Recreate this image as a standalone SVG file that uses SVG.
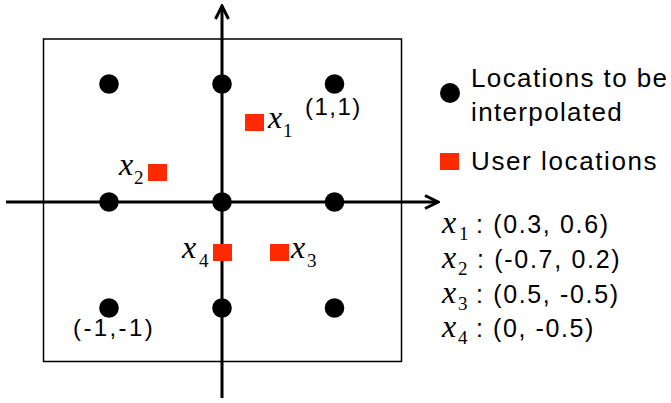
<svg xmlns="http://www.w3.org/2000/svg" width="671" height="403" viewBox="0 0 671 403">
<defs>
<marker id="arrow" markerUnits="userSpaceOnUse" viewBox="-16 -9 18 18" markerWidth="18" markerHeight="18" refX="0" refY="0" orient="auto">
<path d="M-13,-6.5 L0,0 L-13,6.5" fill="none" stroke="#000" stroke-width="3"/>
</marker>
<circle id="pt" r="9.8" fill="#000"/>
<rect id="sq" width="19" height="17" fill="#FF2A00"/>
</defs>
<rect id="frame" x="43.5" y="39" width="358" height="322.5" fill="none" stroke="#000" stroke-width="1.5"/>
<g id="connectors" stroke="#000" stroke-width="3" fill="none">
<line x1="6" y1="202" x2="438" y2="202" marker-end="url(#arrow)"/>
<line x1="222" y1="398" x2="222" y2="6" marker-end="url(#arrow)"/>
</g>
<g id="grid-points">
<use href="#pt" x="109" y="84"/>
<use href="#pt" x="222" y="84"/>
<use href="#pt" x="334.5" y="84"/>
<use href="#pt" x="109" y="202"/>
<use href="#pt" x="222" y="202"/>
<use href="#pt" x="334.5" y="202"/>
<use href="#pt" x="109" y="308"/>
<use href="#pt" x="222" y="308"/>
<use href="#pt" x="334.5" y="308"/>
</g>
<g id="corner-labels">
<text x="305" y="115" font-family="Liberation Sans" font-size="24" letter-spacing="1.5">(1,1)</text>
<text x="73" y="336" font-family="Liberation Sans" font-size="24" letter-spacing="2.4">(-1,-1)</text>
</g>
<g id="user-x1">
<use href="#sq" x="245" y="114"/>
<text x="268" y="128" font-family="Liberation Serif" font-style="italic" font-size="32">x</text>
<text x="283" y="137" font-family="Liberation Serif" font-size="19">1</text>
</g>
<g id="user-x2">
<use href="#sq" x="148" y="164"/>
<text x="119" y="175" font-family="Liberation Serif" font-style="italic" font-size="32">x</text>
<text x="134" y="184" font-family="Liberation Serif" font-size="19">2</text>
</g>
<g id="user-x3">
<use href="#sq" x="270" y="244"/>
<text x="291" y="258" font-family="Liberation Serif" font-style="italic" font-size="32">x</text>
<text x="307" y="267" font-family="Liberation Serif" font-size="19">3</text>
</g>
<g id="user-x4">
<use href="#sq" x="213" y="244"/>
<text x="182" y="258" font-family="Liberation Serif" font-style="italic" font-size="32">x</text>
<text x="199" y="267" font-family="Liberation Serif" font-size="19">4</text>
</g>
<g id="legend">
<circle cx="450" cy="93" r="10" fill="#000"/>
<text x="471" y="87" font-family="Liberation Sans" font-size="26" letter-spacing="1.4">Locations to be</text>
<text x="471" y="121" font-family="Liberation Sans" font-size="26" letter-spacing="1.35">interpolated</text>
<use href="#sq" x="440" y="153"/>
<text x="471" y="170" font-family="Liberation Sans" font-size="26" letter-spacing="1.6">User locations</text>
</g>
<g id="coordinates">
<text x="442" y="233" font-family="Liberation Serif" font-style="italic" font-size="32">x</text>
<text x="459" y="240" font-family="Liberation Serif" font-size="19">1</text>
<text x="476" y="233" font-family="Liberation Sans" font-size="25" letter-spacing="1.65">: (0.3, 0.6)</text>
<text x="442" y="268" font-family="Liberation Serif" font-style="italic" font-size="32">x</text>
<text x="458" y="275" font-family="Liberation Serif" font-size="19">2</text>
<text x="477" y="268" font-family="Liberation Sans" font-size="25" letter-spacing="1.7">: (-0.7, 0.2)</text>
<text x="442" y="303" font-family="Liberation Serif" font-style="italic" font-size="32">x</text>
<text x="458" y="310" font-family="Liberation Serif" font-size="19">3</text>
<text x="476" y="303" font-family="Liberation Sans" font-size="25" letter-spacing="1.65">: (0.5, -0.5)</text>
<text x="442" y="337" font-family="Liberation Serif" font-style="italic" font-size="32">x</text>
<text x="458" y="344" font-family="Liberation Serif" font-size="19">4</text>
<text x="476" y="337" font-family="Liberation Sans" font-size="25" letter-spacing="1.6">: (0, -0.5)</text>
</g>
</svg>
